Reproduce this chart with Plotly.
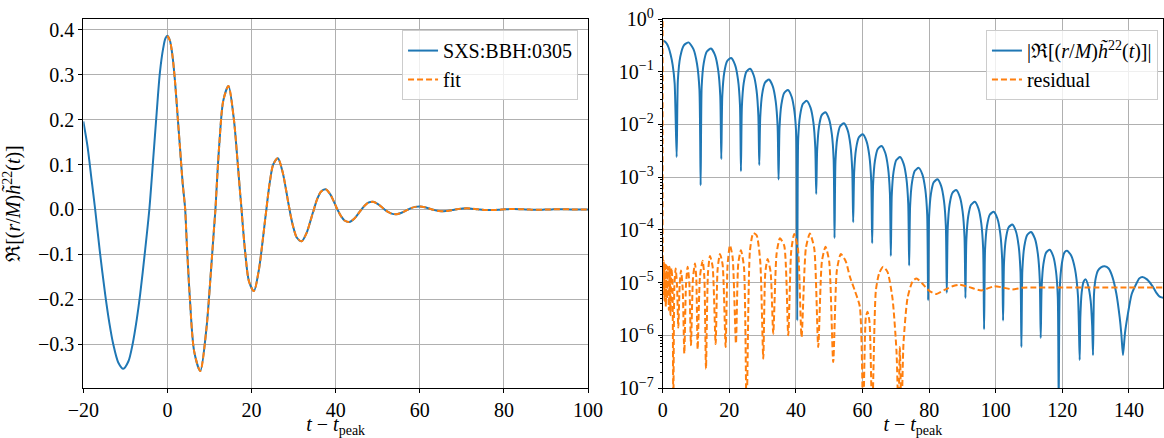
import plotly.graph_objects as go

# ---- waveform Re[(r/M) h22(t)] (t relative to peak) ----
h_t = [-20, -19, -18, -17.2, -16.1, -14.8, -13.8, -12.9, -11.7, -10.5, -9.3, -8.3, -7.3, -6.5, -5.35,
       -4.3, -3.37, -2.57, -1.8, -1.0, -0.5,
       0, 0.6, 1.2, 1.8, 2.4, 3.0, 3.6, 4.2,
       4.56, 5.28, 6.36, 7.80, 9.24, 10.32, 11.04, 11.4,
       11.71, 12.33, 13.26, 14.50, 15.74, 16.67, 17.29, 17.6,
       17.90, 18.49, 19.37, 20.55, 21.73, 22.62, 23.21, 23.5,
       23.78, 24.33, 25.15, 26.25, 27.35, 28.18, 28.73, 29.0,
       29.29, 29.87, 30.74, 31.90, 33.06, 33.93, 34.51, 34.8,
       35.08, 35.64, 36.48, 37.60, 38.72, 39.56, 40.12, 40.4,
       40.69, 41.26, 42.11, 43.25, 44.39, 45.25, 45.82, 46.1,
       46.38, 46.93, 47.75, 48.85, 49.95, 50.78, 51.33, 51.6,
       51.88, 52.44, 53.28, 54.40, 55.52, 56.36, 56.92, 57.2,
       57.49, 58.06, 58.91, 60.05, 61.19, 62.05, 62.62, 62.9,
       63.18, 63.74, 64.58, 65.70, 66.82, 67.66, 68.22, 68.5,
       68.78, 69.33, 70.15, 71.25, 72.35, 73.18, 73.73, 74.0,
       74.29, 74.86, 75.71, 76.85, 77.99, 78.85, 79.42, 79.7,
       79.98, 80.54, 81.38, 82.50, 83.62, 84.46, 85.02, 85.3,
       85.58, 86.14, 86.98, 88.10, 89.22, 90.06, 90.62, 90.9,
       91.18, 91.74, 92.58, 93.70, 94.82, 95.66, 96.22, 96.5,
       96.79, 97.36, 98.21, 99.35, 100.49, 101.35, 101.92, 102.2,
       102.48, 103.03, 103.85, 104.95, 106.05, 106.88, 107.43, 107.7,
       107.99, 108.57, 109.44, 110.60, 111.76, 112.63, 113.21, 113.5,
       113.77, 114.31, 115.12, 116.20, 117.28, 118.09, 118.63, 118.9,
       119.21, 119.85, 120.6, 121.4, 122.6, 123.8, 124.7, 125.2,
       125.4, 125.8, 126.4, 127.0, 127.7, 128.5, 128.95, 129.2,
       129.5, 130.0, 130.7, 131.6, 132.7, 133.9, 135.0, 136.2, 137.2, 137.7, 138.2,
       138.8, 139.7, 140.8, 142.2, 143.1, 144.0, 145.4, 147.2, 148.3, 149.2, 150.4]

h_re = [0.196, 0.14, 0.063, 0.001, -0.092, -0.19, -0.254, -0.30, -0.341, -0.355, -0.339, -0.301, -0.245, -0.19, -0.094,
        0.001, 0.115, 0.215, 0.305, 0.36, 0.381,
        0.387, 0.376, 0.342, 0.285, 0.21, 0.135, 0.06, 0.0024,
        -0.068, -0.191, -0.317, -0.360, -0.268, -0.140, -0.046, -0.0007,
        0.052, 0.146, 0.242, 0.275, 0.205, 0.107, 0.035, 0.0022,
        -0.0344, -0.0966, -0.160, -0.182, -0.135, -0.071, -0.0235, -0.0013,
        0.0215, 0.0605, 0.1003, 0.114, 0.0848, 0.0445, 0.0147, 0.0017,
        -0.0134, -0.0377, -0.0625, -0.071, -0.0528, -0.0277, -0.0092, -0.0009,
        0.0085, 0.0239, 0.0396, 0.045, 0.0335, 0.0176, 0.0058, 1.9e-6,
        -0.0053, -0.0149, -0.0246, -0.028, -0.0208, -0.0109, -0.0036, -0.00048,
        0.0032, 0.0090, 0.0150, 0.017, 0.0126, 0.0066, 0.0022, 7e-5,
        -0.00198, -0.00558, -0.00924, -0.0105, -0.00781, -0.0041, -0.00135, -0.00014,
        0.00123, 0.00345, 0.00572, 0.0065, 0.00484, 0.00254, 0.00084, 5.6e-5,
        -0.000737, -0.00207, -0.00343, -0.0039, -0.0029, -0.00152, -0.000503, -3.2e-5,
        0.000454, 0.00127, 0.00211, 0.0024, 0.00179, 0.000936, 0.00031, 2.1e-5,
        -0.000284, -0.000797, -0.00132, -0.0015, -0.00112, -0.000585, -0.000194, -4.6e-6,
        1.72e-4, 4.83e-4, 8.0e-4, 9.1e-4, 6.77e-4, 3.55e-4, 1.17e-4, 6.4e-6,
        -1.08e-4, -3.03e-4, -5.02e-4, -5.7e-4, -4.24e-4, -2.22e-4, -7.4e-5, -5.1e-6,
        6.4e-5, 1.81e-4, 2.99e-4, 3.4e-4, 2.53e-4, 1.33e-4, 4.4e-5, 1.3e-6,
        -4.2e-5, -1.17e-4, -1.94e-4, -2.2e-4, -1.64e-4, -8.6e-5, -2.8e-5, -1.9e-6,
        2.4e-5, 6.7e-5, 1.11e-4, 1.26e-4, 9.4e-5, 4.9e-5, 1.6e-5, 6e-7,
        -1.72e-5, -4.83e-5, -8.0e-5, -9.1e-5, -6.8e-5, -3.55e-5, -1.17e-5, -8.9e-7,
        7.9e-6, 2.23e-5, 3.7e-5, 4.2e-5, 3.12e-5, 1.64e-5, 5.4e-6, 5e-8,
        -7.6e-6, -2.3e-5, -3.7e-5, -4.0e-5, -3.3e-5, -1.8e-5, -5.5e-6, -3.4e-7,
        2.2e-6, 6.5e-6, 1.05e-5, 1.15e-5, 9e-6, 4.5e-6, 1.5e-6, 4.2e-7,
        -6e-6, -1.2e-5, -1.7e-5, -1.95e-5, -2.04e-5, -1.85e-5, -1.3e-5, -6.2e-6, -2.2e-6, -1.07e-6, -4.2e-7,
        1.1e-6, 2.6e-6, 6e-6, 9.5e-6, 1.2e-5, 1.28e-5, 1.15e-5, 8.3e-6, 6.3e-6, 5.4e-6, 5.1e-6]

# ---- residual |data - fit| ----
res_t = [0, 0, 0.15, 0.35, 0.55, 0.75, 0.95, 1.15, 1.35, 1.6, 1.85, 2.1, 2.35, 2.6, 2.9, 3.2, 3.5, 3.9,
         4.3, 4.7, 5.1, 5.5, 6.0, 6.5, 7.0, 7.5, 8.0, 8.5, 9.1, 9.7, 10.1, 10.5, 11.2, 12.0, 12.5,
         13.0, 13.6, 14.2, 15.0, 15.9, 16.5, 17.2, 18.0, 18.9, 19.5, 20.2, 21.0, 22.0, 22.7, 23.5,
         24.4, 25.2, 26.2, 27.2, 28.2, 29.3, 30.2, 30.8, 31.5, 32.4, 33.2, 34.2, 35.2, 36.5, 37.7,
         38.6, 39.5, 40.6, 41.7, 43.0, 44.2, 45.5, 46.7, 47.8, 48.9, 50.0, 51.2, 52.3, 53.5, 55.0,
         56.2, 57.7, 59.2, 60.2, 61.0, 61.5, 62.1, 62.9, 64.0, 65.0, 66.2, 67.5, 69.0, 70.2, 70.8,
         71.2, 71.7, 72.3, 73.5, 75.0, 76.2, 78.0, 80.0, 82.2, 84.5, 87.0, 89.2, 92.0, 95.7, 99.5,
         102.0, 104.9, 108, 112, 120, 130, 140, 150.5]
res_v = [2.0, 3.2e-5, 6e-6, 2.6e-5, 4.5e-6, 2.4e-5, 3.5e-6, 2.1e-5, 5e-6, 2.0e-5, 3e-6, 2.0e-5, 2.4e-6, 1.9e-5,
         1.2e-5, 3e-8, 8e-6, 1.85e-5,
         9e-6, 1.4e-6, 9e-6, 1.7e-5, 8e-6, 4.5e-7, 9e-6, 2.0e-5, 1.0e-5, 6.5e-7, 1.2e-5, 2.3e-5, 1.2e-5,
         5.4e-7, 1.3e-5, 2.6e-5, 1.3e-5,
         2.3e-7, 1.5e-5, 3.2e-5, 2.0e-5, 6.8e-7, 1.8e-5, 3.5e-5, 2.2e-5, 6e-7, 2.2e-5, 5.1e-5, 3e-5, 7e-7,
         2.3e-5, 4.1e-5,
         2.0e-5, 3e-8, 4e-5, 8.7e-5, 7.9e-5, 2.5e-5, 3.6e-7, 1.5e-5, 2.8e-5, 1.6e-5, 1.07e-6, 3.5e-5, 6.9e-5,
         5e-5, 1e-6,
         4e-5, 8.3e-5, 4.5e-5, 9.3e-7, 4.5e-5, 8.5e-5, 4.5e-5, 6e-7, 2.5e-5, 4.8e-5, 2.5e-5, 3.1e-7, 1.7e-5,
         3.5e-5, 2.5e-5,
         1.3e-5, 7e-6, 3.5e-6, 3e-8, 2.2e-6, 2.8e-6, 1.8e-6, 3e-8, 7e-6, 1.5e-5, 2.0e-5, 1.6e-5, 5e-6, 5e-7,
         3e-8,
         6e-7, 3e-8, 7e-7, 5e-6, 1.05e-5, 1.2e-5, 9.5e-6, 7e-6, 6.1e-6, 7.2e-6, 8.5e-6, 9.1e-6, 8.2e-6,
         7.1e-6, 8.5e-6,
         8.1e-6, 7.4e-6, 8.0e-6, 8.1e-6, 8.1e-6, 8.1e-6, 8.1e-6, 8.1e-6]

left_xticks = [-20, 0, 20, 40, 60, 80, 100]
left_yticks = [-0.3, -0.2, -0.1, 0.0, 0.1, 0.2, 0.3, 0.4]
right_xticks = [0, 20, 40, 60, 80, 100, 120, 140]
right_yexp = [0, -1, -2, -3, -4, -5, -6, -7]

BLUE = '#1f77b4'
ORANGE = '#ff7f0e'
FONT = 'Liberation Serif'

fit_t = [t for t in h_t if t >= 0]
fit_v = [v for t, v in zip(h_t, h_re) if t >= 0]
abs_v = [abs(v) for v in h_re]

ylab = 'ℜ[(<i>r</i>/<i>M</i>)<i>h̃</i><sup>22</sup>(<i>t</i>)]'
xlab = '<i>t</i> − <i>t</i><sub>peak</sub>'

fig = go.Figure()
fig.add_trace(go.Scatter(x=h_t, y=h_re, mode='lines', name='SXS:BBH:0305',
                         line=dict(color=BLUE, width=2, shape='spline', smoothing=0.8),
                         xaxis='x', yaxis='y', legend='legend'))
fig.add_trace(go.Scatter(x=fit_t, y=fit_v, mode='lines', name='fit',
                         line=dict(color=ORANGE, width=2, dash='6px,3px', shape='spline', smoothing=0.8),
                         xaxis='x', yaxis='y', legend='legend'))
fig.add_trace(go.Scatter(x=h_t, y=abs_v, mode='lines', name='|' + ylab + '|',
                         line=dict(color=BLUE, width=2, shape='spline', smoothing=0.6),
                         xaxis='x2', yaxis='y2', legend='legend2'))
fig.add_trace(go.Scatter(x=res_t, y=res_v, mode='lines', name='residual',
                         line=dict(color=ORANGE, width=2, dash='6px,3px', shape='spline', smoothing=0.6),
                         xaxis='x2', yaxis='y2', legend='legend2'))

axis_common = dict(showline=True, linecolor='black', linewidth=1, mirror=True,
                   showgrid=True, gridcolor='#b0b0b0', gridwidth=1, zeroline=False,
                   ticks='outside', ticklen=4, tickcolor='black', automargin=False,
                   tickfont=dict(family=FONT, size=20, color='black'))

fig.update_layout(
    width=1164, height=438,
    margin=dict(l=0, r=0, t=19, b=50, autoexpand=False),
    paper_bgcolor='white', plot_bgcolor='white',
    font=dict(family=FONT, size=20, color='black'),
    xaxis=dict(domain=[0.0716, 0.5052], range=[-20, 100], tickvals=left_xticks,
               title=dict(text=xlab, font=dict(family=FONT, size=20), standoff=2), anchor='y',
               **axis_common),
    yaxis=dict(range=[-0.398, 0.4245], tickvals=left_yticks,
               ticktext=['−0.3', '−0.2', '−0.1', '0.0', '0.1', '0.2', '0.3', '0.4'],
               title=dict(text=ylab, font=dict(family=FONT, size=20), standoff=14), anchor='x',
               **axis_common),
    xaxis2=dict(domain=[0.5693, 0.9991], range=[0, 150.2], tickvals=right_xticks,
                title=dict(text=xlab, font=dict(family=FONT, size=20), standoff=2), anchor='y2',
                **axis_common),
    yaxis2=dict(type='log', range=[-7, 0], tickvals=[10 ** e for e in right_yexp],
                ticktext=['10<sup>%s</sup>' % (str(e).replace('-', '−')) for e in right_yexp],
                anchor='x2',
                minor=dict(ticks='outside', ticklen=2, tickcolor='black', showgrid=False,
                           tickmode='linear', dtick='D1'),
                **axis_common),
    legend=dict(x=0.4966, y=0.97, xanchor='right', yanchor='top',
                bgcolor='rgba(255,255,255,0.8)', bordercolor='#cccccc', borderwidth=1,
                font=dict(family=FONT, size=20), tracegroupgap=0),
    legend2=dict(x=0.9948, y=0.97, xanchor='right', yanchor='top',
                 bgcolor='rgba(255,255,255,0.8)', bordercolor='#cccccc', borderwidth=1,
                 font=dict(family=FONT, size=20), tracegroupgap=0),
)

fig.write_html('out.html', config={'displayModeBar': False},
               post_script="document.body.style.margin='0';document.body.style.padding='0';")
